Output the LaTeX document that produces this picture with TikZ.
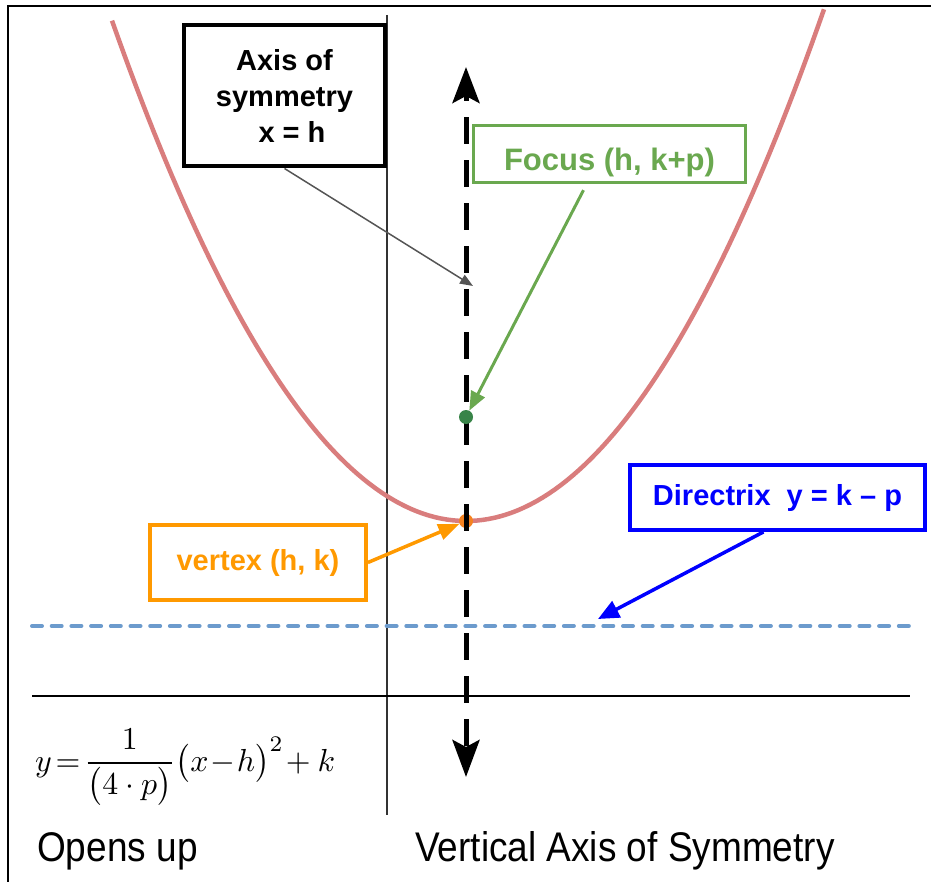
\documentclass[tikz,border=0pt]{standalone}
\usepackage{amsmath}
\usepackage{fontspec}
\setmainfont{Liberation Sans}
\usetikzlibrary{arrows.meta}
\definecolor{parab}{RGB}{217,125,125}
\definecolor{focgreen}{RGB}{106,168,79}
\definecolor{dotgreen}{RGB}{56,132,72}
\definecolor{vorange}{RGB}{255,153,0}
\definecolor{dotorange}{RGB}{245,130,32}
\definecolor{dirline}{RGB}{108,155,205}
\definecolor{dirblue}{RGB}{0,0,255}
\definecolor{arrgray}{RGB}{85,85,85}
\newcommand{\vstretch}[2]{\scalebox{1}[#1]{#2}}
\begin{document}
\begin{tikzpicture}[x=1pt,y=-1pt,
  lbl/.style={font=\bfseries\fontsize{29}{36}\selectfont, align=center, fill=white, inner sep=0pt, anchor=center},
  plain/.style={font=\fontsize{37}{44}\selectfont, inner sep=0pt, anchor=base west},
  axisln/.style={line width=1.6pt},
  dotstyle/.style={circle, inner sep=0pt, minimum size=14pt}]
\useasboundingbox (0,0) rectangle (931,882);
% frame
\draw[line width=2pt] (8,882) -- (8,6) -- (931,6);
% axes
\draw[axisln, black!80] (387,15) -- (387,815);
\draw[axisln] (32,696) -- (910,696);
% directrix
\draw[dirline, line width=4pt, line cap=round, dash pattern=on 10pt off 9.7pt] (32,626) -- (910,626);
% parabola
\draw[parab, line width=4.5pt] plot[domain=-354:358, samples=120] ({466+\x},{521-(0.06319*\x)*(0.06319*\x)});
% vertex dot
\node[dotstyle, fill=dotorange] (vtx) at (466,521) {};
% axis of symmetry
\coordinate (axtop) at (466,67);
\coordinate (axbot) at (466,777);
\draw[line width=5pt, dash pattern=on 27pt off 16pt, dash phase=20pt,
  {Stealth[length=36pt,width=27pt,inset=7pt]}-{Stealth[length=37pt,width=27pt,inset=7pt]}] (axtop) -- (axbot);
% focus dot
\node[dotstyle, fill=dotgreen] (foc) at (466,417) {};
% boxes
\node[lbl, draw=black, line width=4pt, minimum width=201pt, minimum height=141pt] (axbox) at (284.5,96)
  {Axis of\\symmetry\\\hspace*{15pt}x = h};
\node[lbl, draw=focgreen, text=focgreen, line width=3.3pt, minimum width=272pt, minimum height=57pt,
  font=\bfseries\fontsize{31}{36}\selectfont] (focbox) at (609.5,154)
  {\raisebox{-8pt}[\height][\depth]{Focus (h, k+p)}};
\node[lbl, draw=vorange, text=vorange, line width=3.8pt, minimum width=216pt, minimum height=75pt] (vbox) at (258,562.5)
  {vertex (h, k)};
\node[lbl, draw=dirblue, text=dirblue, line width=3.8pt, minimum width=295pt, minimum height=65pt] (dbox) at (777.5,497.5)
  {Directrix\ \ y = k -- p};
% connectors
\coordinate (gtip) at (473,286);
\draw[arrgray, line width=1.5pt, -{Stealth[length=13pt,width=10pt,inset=0pt]}] (axbox.south) -- (gtip);
\draw[focgreen, line width=3pt, -{Triangle[length=19pt,width=15pt]}] ([xshift=-26pt,yshift=-6pt]focbox.south) -- (foc);
\draw[vorange, line width=3.5pt, -{Triangle[length=21pt,width=16pt]}] (vbox.east) -- (vtx);
\coordinate (dtip) at (598,619);
\draw[dirblue, line width=3.5pt, -{Triangle[length=21pt,width=18pt]}] ([xshift=-14pt]dbox.south) -- (dtip);
% formula
\node[anchor=base west, inner sep=0pt] (formula) at (35,771)
  {\resizebox{300pt}{!}{$\displaystyle y\!=\!\frac{1}{\bigl(4\cdot p\bigr)}\bigl(x\!-\!h\bigr)^{2}\!+k$}};
% bottom texts
\node[plain] (opens) at (37,861) {\vstretch{1.12}{Opens up}};
\node[plain] (vas) at (415,861) {\vstretch{1.12}{Vertical Axis of Symmetry}};
\end{tikzpicture}
\end{document}
